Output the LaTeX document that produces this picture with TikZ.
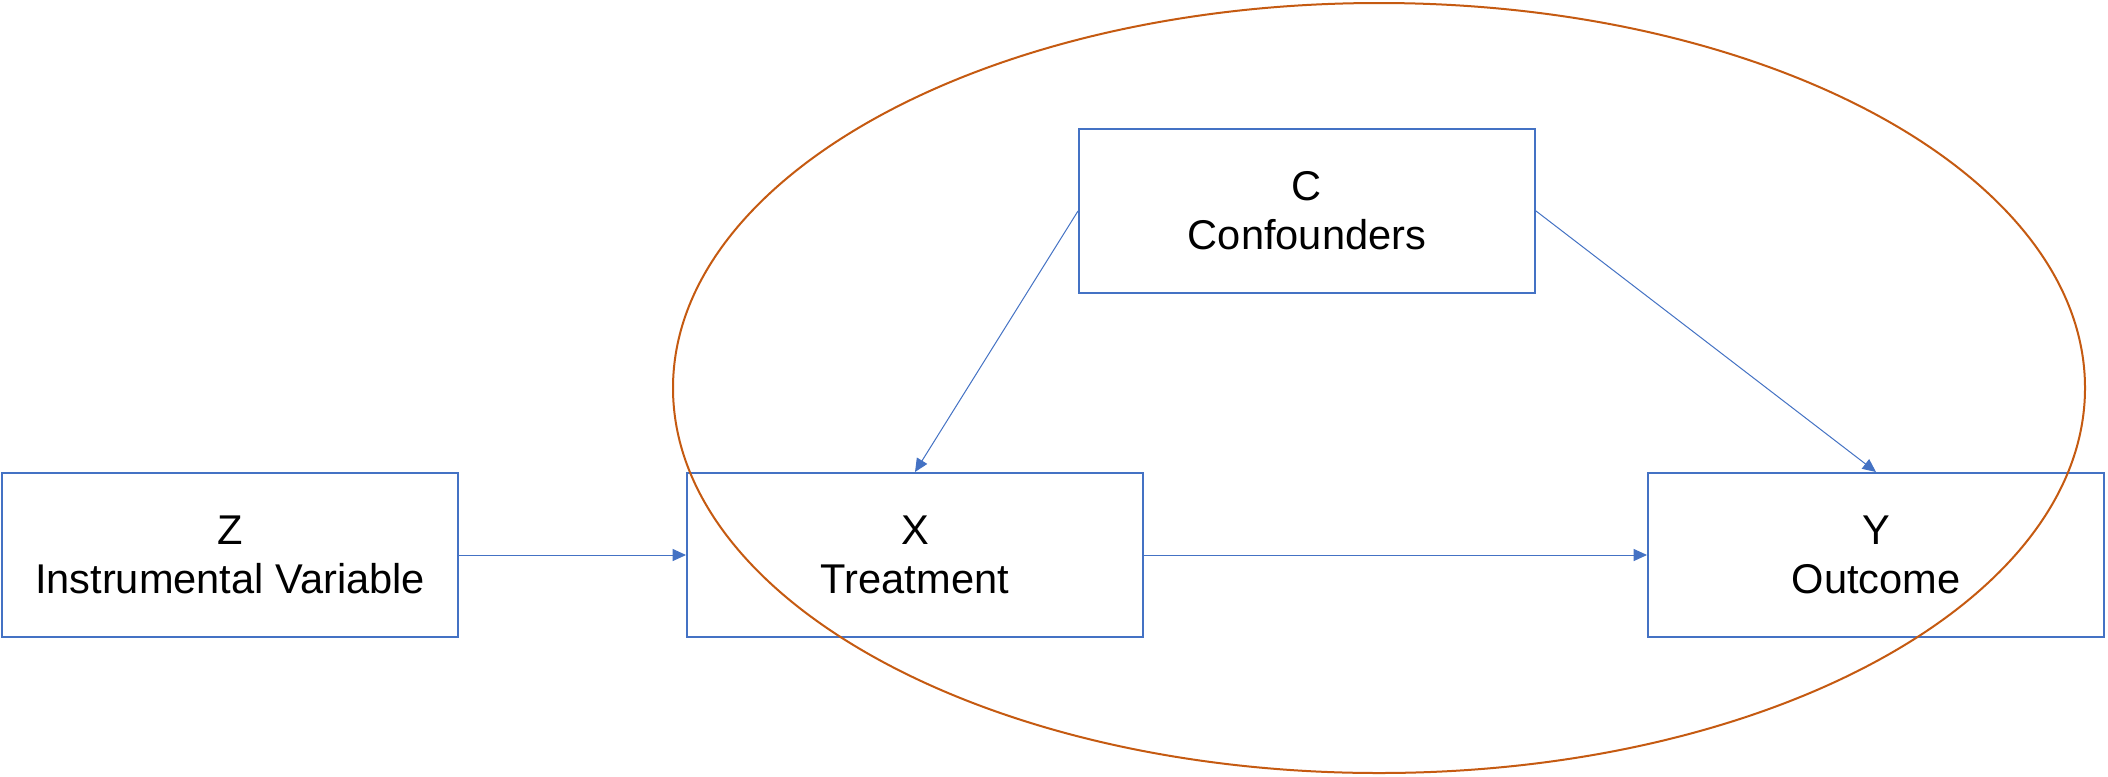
\documentclass[tikz,border=0pt]{standalone}
\usepackage{fontspec}
\setmainfont{Liberation Sans}
\usetikzlibrary{arrows.meta}
\definecolor{boxblue}{HTML}{4472C4}
\definecolor{ellorange}{HTML}{C55A11}
\begin{document}
\begin{tikzpicture}[x=0.75pt,y=-0.75pt,
  varbox/.style={draw=boxblue,line width=1.5pt,fill=white,minimum width=342pt,minimum height=123pt,inner sep=0pt,align=center,font=\fontsize{31.2}{36.8}\selectfont},
  link/.style={draw=boxblue,line width=0.75pt,-{Triangle[length=10pt,width=9pt]}}]
\useasboundingbox (0,0) rectangle (2108,776);
\fill[white] (0,0) rectangle (2108,776);
\node[varbox] (z) at (230,555) {Z\\Instrumental Variable};
\node[varbox] (x) at (915,555) {X\\Treatment};
\node[varbox] (y) at (1876,555) {Y\\Outcome};
\node[varbox] (c) at (1307,211) {C\\Confounders};
\draw[link] (z.east) -- (x.west);
\draw[link] (x.east) -- (y.west);
\draw[link] (c.west) -- (x.north);
\draw[link] (c.east) -- (y.north);
\draw[ellorange,line width=1.5pt] (1379,388) ellipse [x radius=529.5pt, y radius=288.75pt];
\end{tikzpicture}
\end{document}
